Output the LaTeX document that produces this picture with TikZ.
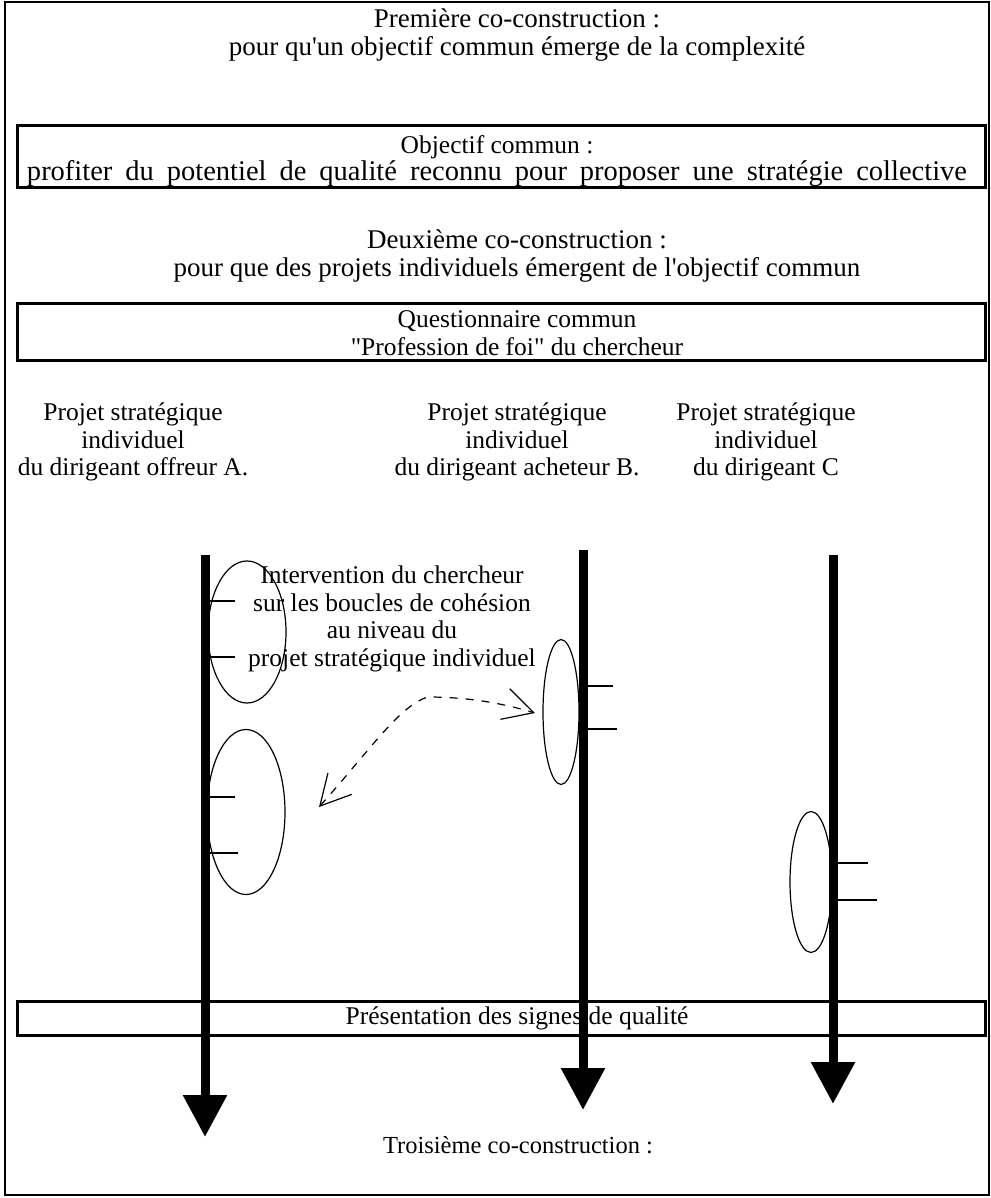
\documentclass[tikz,border=0pt]{standalone}
\usepackage{fontspec}
\setmainfont{Liberation Serif}[Ligatures=TeXOff]
\usetikzlibrary{positioning, shapes.geometric, arrows.meta}

\begin{document}
\begin{tikzpicture}[x=1pt, y=-1pt,
  txt/.style={align=center, font=\fontsize{25.5}{27.5}\selectfont, inner sep=0pt},
  bigtxt/.style={txt, font=\fontsize{27}{28}\selectfont},
  framebox/.style={draw, line width=3pt, minimum width=968pt, inner sep=0pt},
  flow/.style={line width=9pt, -{Triangle[length=42pt, width=42pt]}},
  cohesion/.style={ellipse, draw, line width=1.2pt, inner sep=0pt},
  tickline/.style={line width=1.2pt},
  dasharr/.style={line width=1.2pt, dash pattern=on 8pt off 8pt,
                  {Straight Barb[length=30pt, width=32pt]}-{Straight Barb[length=30pt, width=32pt]}},
]
  \useasboundingbox (0,0) rectangle (990,1198);
  \draw[line width=1.5pt] (5,2) rectangle (989,1195);

  % co-constructions et encadres
  \node[bigtxt] (first) at (517,35) {Première co-construction :\\pour qu'un objectif commun émerge de la complexité};
  \node[framebox, minimum height=62pt] (objbox) at (501,157) {};
  \node[txt] (objtext) at (497,161) {Objectif commun :\\
    \makebox[940pt][s]{\fontsize{28.5}{28}\selectfont profiter du potentiel de qualité reconnu pour proposer une stratégie collective}};
  \node[bigtxt] (second) at (517,256) {Deuxième co-construction :\\pour que des projets individuels émergent de l'objectif commun};
  \node[framebox, minimum height=57pt] (quesbox) at (501,331.5) {};
  \node[txt] (questext) at (517,333) {Questionnaire commun\\"Profession de foi" du chercheur};

  % projets des dirigeants
  \node[txt] (projA) at (133,442) {Projet stratégique\\individuel\\du dirigeant offreur A.};
  \node[txt] (projB) at (517,442) {Projet stratégique\\individuel\\du dirigeant acheteur B.};
  \node[txt] (projC) at (766,442) {Projet stratégique\\individuel\\du dirigeant C};

  \node[txt] (interv) at (392,619) {Intervention du chercheur\\sur les boucles de cohésion\\au niveau du\\projet stratégique individuel};

  % boucles de cohesion
  \node[cohesion, minimum width=78pt, minimum height=142pt] (loopA1) at (247,632) {};
  \node[cohesion, minimum width=78pt, minimum height=165pt] (loopA2) at (246,812) {};
  \node[cohesion, minimum width=36pt, minimum height=145pt] (loopB) at (561,712) {};
  \node[cohesion, minimum width=42pt, minimum height=141pt] (loopC) at (811,882) {};

  \draw[tickline] (209,601) -- (235,601);
  \draw[tickline] (209,657) -- (235,657);
  \draw[tickline] (209,797) -- (235,797);
  \draw[tickline] (209,853) -- (238,853);
  \draw[tickline] (586,686) -- (613,686);
  \draw[tickline] (586,729) -- (617,729);
  \draw[tickline] (836,863) -- (868,863);
  \draw[tickline] (836,900) -- (877,900);

  \coordinate (hintA) at (319,807);
  \coordinate (hintB) at (535,713);
  \draw[dasharr] (hintA) .. controls (370,750) and (400,705) .. (428,697)
    .. controls (470,697) and (505,704) .. (hintB);

  \node[framebox, minimum height=34pt] (presbox) at (501,1018) {};
  \node[txt] (prestext) at (517,1018) {Présentation des signes de qualité};

  % fleches des dirigeants
  \coordinate (Atop) at (205,555);
  \coordinate (Aend) at (205,1137);
  \coordinate (Btop) at (583,550);
  \coordinate (Bend) at (583,1110);
  \coordinate (Ctop) at (833,555);
  \coordinate (Cend) at (833,1104);
  \draw[flow] (Atop) -- (Aend);
  \draw[flow] (Btop) -- (Bend);
  \draw[flow] (Ctop) -- (Cend);

  \node[txt, font=\fontsize{24.5}{27}\selectfont] (third) at (518,1145) {Troisième co-construction :};
\end{tikzpicture}
\end{document}
